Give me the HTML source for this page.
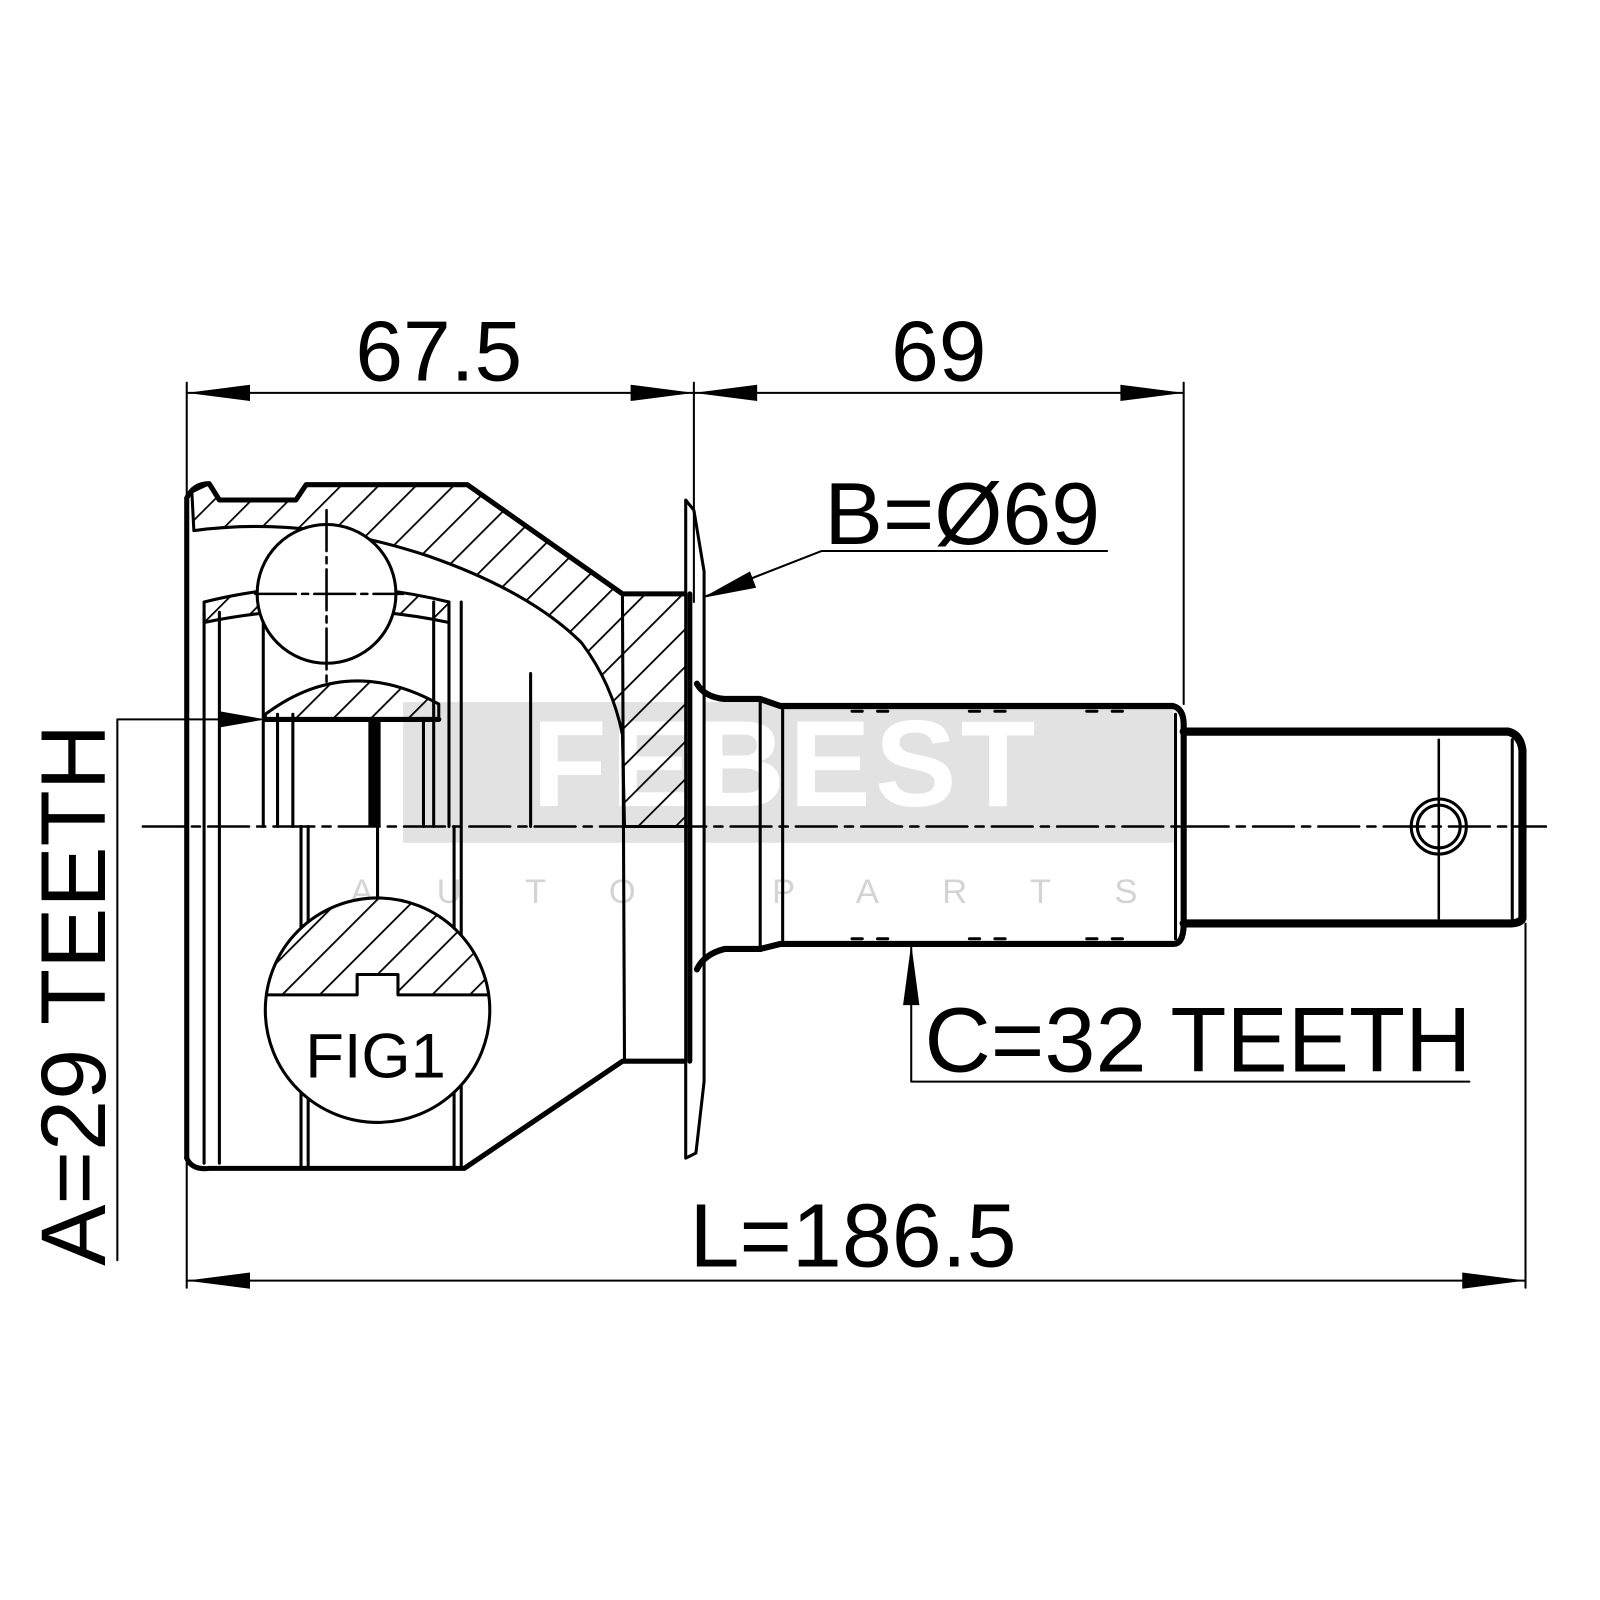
<!DOCTYPE html>
<html><head><meta charset="utf-8"><style>
html,body{margin:0;padding:0;background:#fff}
svg{display:block}
text{font-family:"Liberation Sans",Arial,sans-serif;fill:#000}
</style></head><body>
<svg width="1600" height="1600" viewBox="0 0 1568 1568" xmlns="http://www.w3.org/2000/svg">
<defs>
<pattern id="h" width="26" height="26" patternUnits="userSpaceOnUse" patternTransform="rotate(45)">
<line x1="0" y1="0" x2="0" y2="26" stroke="#000" stroke-width="3.5"/>
</pattern>
<clipPath id="fc"><circle cx="370" cy="990" r="110"/></clipPath>
</defs>
<rect width="1568" height="1568" fill="#fff"/>
<rect x="395" y="688" width="755" height="138" fill="#e2e2e2"/>
<text x="770" y="790" font-size="120" font-weight="bold" text-anchor="middle" style="fill:#fff" letter-spacing="4">FEBEST</text>
<text x="760" y="885" font-size="34" text-anchor="middle" style="fill:#d4d4d4" letter-spacing="62">AUTO PARTS</text>

<g fill="none" stroke="#000" stroke-linecap="round" stroke-linejoin="round">
<path d="M190,520 Q300,505 420,545 Q520,580 570,630 Q600,670 610,720 L612,810 L676,810 L676,582 L610,582 L458,475 L300,475 L290,490 L215,490 L205,474 L188,482 Z" fill="url(#h)" stroke-width="3"/>
<path d="M200,590 Q320,560 440,590 L440,610 Q320,585 200,610 Z" fill="url(#h)" stroke-width="3"/>
<path d="M260,700 Q340,640 430,690 L430,705 L260,705 Z" fill="url(#h)" stroke-width="3"/>
<path d="M183,1135 L183,488 Q190,474 205,474 L215,490 L290,490 L300,475 L458,475 L610,582 L676,582" stroke-width="5"/>
<path d="M183,1135 Q188,1147 205,1145 L455,1145 L610,1040 L676,1040" stroke-width="5"/>
<line x1="610" y1="582" x2="612" y2="1040" stroke-width="3"/>
<line x1="200" y1="600" x2="200" y2="1140" stroke-width="3"/>
<line x1="215" y1="600" x2="215" y2="1140" stroke-width="3"/>
<line x1="258" y1="610" x2="258" y2="810" stroke-width="3"/>
<line x1="272" y1="700" x2="272" y2="810" stroke-width="3"/>
<line x1="287" y1="700" x2="287" y2="810" stroke-width="3"/>
<line x1="295" y1="810" x2="295" y2="1145" stroke-width="3"/>
<line x1="302" y1="810" x2="302" y2="1145" stroke-width="3"/>
<line x1="415" y1="705" x2="415" y2="810" stroke-width="3"/>
<line x1="425" y1="590" x2="425" y2="810" stroke-width="3"/>
<line x1="440" y1="590" x2="440" y2="810" stroke-width="3"/>
<line x1="445" y1="810" x2="445" y2="1145" stroke-width="3"/>
<line x1="452" y1="590" x2="452" y2="1145" stroke-width="3"/>
<line x1="520" y1="660" x2="520" y2="810" stroke-width="3"/>
<line x1="260" y1="705" x2="430" y2="705" stroke-width="5"/>
<rect x="362" y="705" width="10" height="105" fill="#000" stroke-width="2"/>
<line x1="370" y1="810" x2="370" y2="880" stroke-width="3"/>
<circle cx="320" cy="582" r="68" fill="#fff" stroke-width="3"/>
<line x1="320" y1="500" x2="320" y2="670" stroke-width="2.5" stroke-dasharray="40,6,6,6"/>
<line x1="250" y1="582" x2="395" y2="582" stroke-width="2.5" stroke-dasharray="40,6,6,6"/>
<path d="M672,490 L680,500 L690,560 L690,1060 L682,1130 L672,1135 Z" fill="#fff" stroke-width="3"/>
<line x1="676" y1="582" x2="676" y2="1040" stroke-width="5"/>
<path d="M683,670 Q690,683 710,685 L745,685 L765,692 L1150,692 Q1160,695 1160,710 L1160,905 Q1160,925 1150,925 L765,925 L745,930 L710,930 Q690,935 683,950" stroke-width="6"/>
<line x1="745" y1="685" x2="745" y2="930" stroke-width="3"/>
<line x1="767" y1="692" x2="767" y2="925" stroke-width="3"/>
<line x1="1152" y1="700" x2="1152" y2="920" stroke-width="3"/>
<path d="M1160,717 L1478,717 Q1490,720 1492,735 L1492,900 Q1490,905 1478,905 L1160,905" stroke-width="8"/>
<line x1="1482" y1="725" x2="1482" y2="900" stroke-width="3"/>
<line x1="1410" y1="725" x2="1410" y2="900" stroke-width="2.5"/>
<circle cx="1410" cy="810" r="27" stroke-width="3"/>
<circle cx="1410" cy="810" r="21" stroke-width="3"/>
<g stroke-width="3"><line x1="835" y1="697" x2="845" y2="697"/><line x1="860" y1="697" x2="870" y2="697"/><line x1="950" y1="697" x2="960" y2="697"/><line x1="975" y1="697" x2="985" y2="697"/><line x1="1065" y1="697" x2="1075" y2="697"/><line x1="1090" y1="697" x2="1100" y2="697"/>
<line x1="835" y1="920" x2="845" y2="920"/><line x1="860" y1="920" x2="870" y2="920"/><line x1="950" y1="920" x2="960" y2="920"/><line x1="975" y1="920" x2="985" y2="920"/><line x1="1065" y1="920" x2="1075" y2="920"/><line x1="1090" y1="920" x2="1100" y2="920"/></g>
<circle cx="370" cy="990" r="110" fill="#fff" stroke-width="3"/>
<path d="M250,975 L350,975 L350,955 L390,955 L390,975 L490,975 L490,860 L250,860 Z" fill="url(#h)" stroke-width="3" clip-path="url(#fc)"/>
<line x1="140" y1="810" x2="1515" y2="810" stroke-width="2.5" stroke-dasharray="40,8,8,8"/>
<g stroke-width="2">
<line x1="183" y1="375" x2="183" y2="1262"/>
<line x1="680" y1="375" x2="680" y2="590"/>
<line x1="1160" y1="375" x2="1160" y2="690"/>
<line x1="1495" y1="905" x2="1495" y2="1262"/>
<line x1="183" y1="385" x2="1160" y2="385"/>
<line x1="183" y1="1255" x2="1495" y2="1255"/>
<polyline points="115,1235 115,705 255,705"/>
<polyline points="1085,540 805,540 690,585"/>
<polyline points="1440,1060 893,1060 893,928"/>
</g>
</g>
<g fill="#000">
<polygon points="183,385 245,377 245,393"/><polygon points="680,385 618,377 618,393"/>
<polygon points="680,385 742,377 742,393"/><polygon points="1160,385 1098,377 1098,393"/>
<polygon points="183,1255 245,1247 245,1263"/><polygon points="1495,1255 1433,1247 1433,1263"/>
<polygon points="260,705 215,697 215,713"/>
<polygon points="688,586 735,560 741,576"/>
<polygon points="893,925 885,985 901,985"/>
</g>
<text x="430" y="373" font-size="84" text-anchor="middle">67.5</text>
<text x="920" y="373" font-size="84" text-anchor="middle">69</text>
<text x="943" y="533" font-size="86" text-anchor="middle">B=Ø69</text>
<text x="1174" y="1050" font-size="90" text-anchor="middle">C=32 TEETH</text>
<text x="836" y="1241" font-size="88" text-anchor="middle">L=186.5</text>
<text x="368" y="1056" font-size="62" text-anchor="middle">FIG1</text>
<text transform="translate(103,975) rotate(-90)" font-size="90" text-anchor="middle">A=29 TEETH</text>
</svg>
</body></html>
